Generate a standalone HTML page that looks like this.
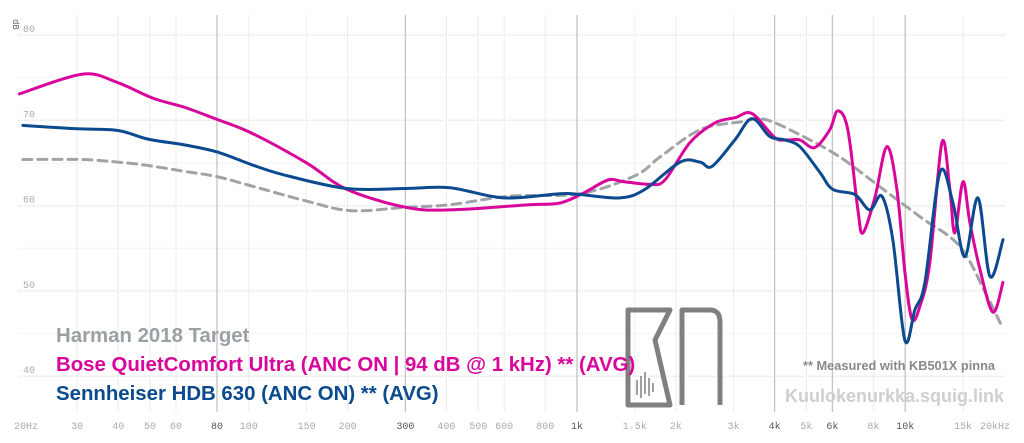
<!DOCTYPE html>
<html><head><meta charset="utf-8"><style>
html,body{margin:0;padding:0;background:#fff;}
svg{display:block;font-family:"Liberation Sans",sans-serif;}
</style></head><body>
<svg id="chart" width="1024" height="443" viewBox="0 0 1024 443">
<g id="grid"></g>
<g id="curves"></g>
<text x="13" y="19" transform="rotate(90 13 19)" font-size="9" fill="#666" font-family="Liberation Mono,monospace">dB</text>
<g fill="none" stroke="#808080" stroke-width="5" stroke-linejoin="round">
<path d="M628,310 L670,310 L655,340 L670,405 L628,405 Z"/>
<path d="M682,405 L682,310 L710,310 Q720,310 720,322 L720,405"/>
<g stroke-width="1.5"><line x1="637" y1="380" x2="637" y2="395"/><line x1="641" y1="376" x2="641" y2="398"/><line x1="645" y1="372" x2="645" y2="394"/><line x1="649" y1="378" x2="649" y2="396"/><line x1="653" y1="383" x2="653" y2="392"/></g>
</g>
<g font-weight="bold" font-size="20.4">
<text x="56" y="342" fill="#9aa0a4">Harman 2018 Target</text>
<text x="56" y="371" fill="#d8069a">Bose QuietComfort Ultra (ANC ON | 94 dB @ 1 kHz) ** (AVG)</text>
<text x="56" y="400" fill="#0b4a8e">Sennheiser HDB 630 (ANC ON) ** (AVG)</text>
</g>
<text x="803" y="370" font-size="12.8" font-weight="bold" fill="#888">** Measured with KB501X pinna</text>
<text x="785" y="402" font-size="18" font-weight="bold" fill="#cfcfcf">Kuulokenurkka.squig.link</text>
</svg>
<script>
const xTicks=[20,30,40,50,60,80,100,150,200,300,400,500,600,800,1000,1500,2000,3000,4000,5000,6000,8000,10000,15000,20000];
const xTickLabels=["20Hz","30","40","50","60","80","100","150","200","300","400","500","600","800","1k","1.5k","2k","3k","4k","5k","6k","8k","10k","15k","20kHz"];
const xTickMajor=[80,300,1000,4000,6000,10000];
const yTicks=[40,45,50,55,60,65,70,75,80];
const yTickLabels=["40","","50","","60","","70","","80"];
const harmanF=[20.5,31,39.9,49.3,64,80,102,151,205,301,410,621,1021,1502,1790,2371,3133,3734,4776,6320,8376,11086,14680,17740,19500];
const harmanDb=[65.4,65.4,65.1,64.7,64.0,63.4,62.3,60.5,59.4,59.8,60.1,61.1,61.4,63.5,65.7,68.9,69.8,70.1,68.3,65.7,62.2,58.7,55.2,49.4,46.2];
const boseF=[20,31,39.4,51,64,80,102,150,199,301,410,714,887,1050,1243,1390,1668,1853,2210,2632,3027,3411,4000,4355,4776,5300,5890,6232,6686,7178,7430,8088,8794,9436,9980,10480,11086,11886,12940,13680,14160,15000,15740,16900,18500,19860];
const boseDb=[73.1,75.4,74.5,72.6,71.5,70.1,68.5,65.0,61.9,59.8,59.5,60.1,60.3,61.5,63.0,62.8,62.5,63.0,67.4,69.7,70.3,70.8,68.0,67.7,67.7,66.8,68.9,71.1,68.9,59.5,56.8,61.0,66.9,61.9,52.2,46.7,48.2,53.3,67.4,61.9,56.8,62.8,58.0,52.5,47.5,51.0];
const sennF=[20.5,30.1,39.9,49.3,64,80,102,128,199,301,410,600,887,1021,1352,1610,2061,2371,2578,3027,3411,3866,4294,4776,5492,6016,7024,7800,8492,9168,9980,10706,11480,12760,13980,15200,16660,18120,19860];
const sennDb=[69.4,69.0,68.8,67.8,67.1,66.3,64.8,63.6,62.0,62.0,62.1,60.9,61.4,61.3,60.9,61.9,65.1,65.1,64.6,67.7,70.2,68.1,67.7,66.9,63.9,61.9,61.3,59.5,61.1,56.0,44.2,47.8,51.0,63.9,60.3,54.0,60.9,51.7,56.0];

const NS='http://www.w3.org/2000/svg';
function xs(f){return 19.4+328.2*Math.log10(f/20);}
function ys(d){return 35+(80-d)*8.53;}
const grid=document.getElementById('grid');
yTicks.forEach((d,i)=>{
  const l=document.createElementNS(NS,'line');
  
  
  l.setAttribute('x1',18);l.setAttribute('x2',1006);l.setAttribute('y1',ys(d));l.setAttribute('y2',ys(d));
  l.setAttribute('stroke',yTickLabels[i]?'#e4e4e4':'#efefef');l.setAttribute('stroke-width',1.5);l.setAttribute('stroke-dasharray','1 1');
  grid.appendChild(l);
  if(yTickLabels[i]){
    const t=document.createElementNS(NS,'text');
    
    
    t.setAttribute('x',23);t.setAttribute('y',ys(d)-3);t.setAttribute('font-size','10');t.setAttribute('fill','#aaa');t.setAttribute('font-family','Liberation Mono,monospace');
    t.textContent=yTickLabels[i];grid.appendChild(t);
  }
});
xTicks.forEach((f,i)=>{
  const major=xTickMajor.includes(f);
  const x=xs(f);
  const l=document.createElementNS(NS,'line');
  
  
  l.setAttribute('x1',x);l.setAttribute('x2',x);l.setAttribute('y1',15);l.setAttribute('y2',412);
  l.setAttribute('stroke',major?'#c4c4c4':'#ececec');l.setAttribute('stroke-width',major?1.3:1);
  if(i>0&&i<xTicks.length-1)grid.appendChild(l);
  const t=document.createElementNS(NS,'text');
  
  
  let tx=x, anchor='middle';
  if(i===0){tx=14;anchor='start';}
  if(i===xTicks.length-1){tx=1010;anchor='end';}
  t.setAttribute('x',tx);t.setAttribute('y',429);t.setAttribute('text-anchor',anchor);t.setAttribute('font-size','10');
  t.setAttribute('fill',major?'#555':'#aaa');t.setAttribute('font-family','Liberation Mono,monospace');
  t.textContent=xTickLabels[i];grid.appendChild(t);
});
function path(F,D){
  const p=F.map((f,i)=>[xs(f),ys(D[i])]);
  let d='M'+p[0][0].toFixed(1)+','+p[0][1].toFixed(1);
  for(let i=0;i<p.length-1;i++){
    const p0=p[Math.max(0,i-1)],p1=p[i],p2=p[i+1],p3=p[Math.min(p.length-1,i+2)];
    const c1=[p1[0]+(p2[0]-p0[0])/6,p1[1]+(p2[1]-p0[1])/6];
    const c2=[p2[0]-(p3[0]-p1[0])/6,p2[1]-(p3[1]-p1[1])/6];
    d+=' C'+c1[0].toFixed(1)+','+c1[1].toFixed(1)+' '+c2[0].toFixed(1)+','+c2[1].toFixed(1)+' '+p2[0].toFixed(1)+','+p2[1].toFixed(1);
  }
  return d;
}
const curves=document.getElementById('curves');
function addCurve(F,D,color,dash,name){
  const el=document.createElementNS(NS,'path');
  
  
  el.setAttribute('d',path(F,D));el.setAttribute('fill','none');el.setAttribute('stroke',color);
  el.setAttribute('stroke-width',3);el.setAttribute('stroke-linecap','round');
  if(dash)el.setAttribute('stroke-dasharray',dash);
  curves.appendChild(el);
}
addCurve(harmanF,harmanDb,'#a0a4a8','9 6','harman-target-line');
addCurve(boseF,boseDb,'#d8069a',null,'bose-qc-ultra-line');
addCurve(sennF,sennDb,'#0b4a8e',null,'sennheiser-hdb630-line');
</script>
</body></html>
